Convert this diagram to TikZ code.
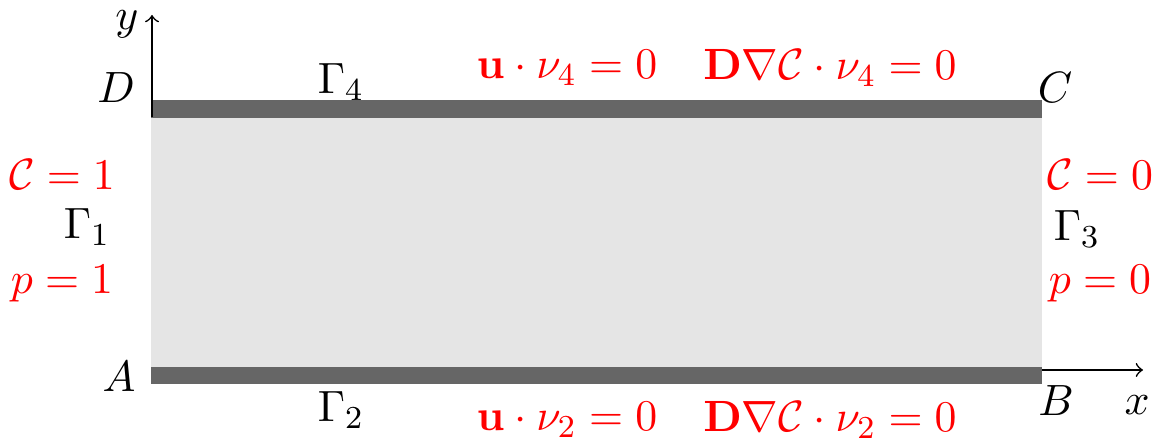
\documentclass[tikz,border=0pt]{standalone}
\usepackage{amsmath}
\begin{document}
\begin{tikzpicture}[x=0.25pt,y=-0.25pt,
  bar/.style={fill=black!60,draw=none},
  lbl/.style={inner sep=0pt,anchor=center,font=\fontsize{11}{13}\selectfont},
  red/.style={lbl,text=red},
  axis/.style={-to,line width=0.4pt}]
\useasboundingbox (0,0) rectangle (1164,447);
% domain
\fill[gray!20] (151,118) rectangle (1042,367);
\draw[bar] (151,100) rectangle (1042,118);
\draw[bar] (151,367) rectangle (1042,384);
% axes
\coordinate (o) at (152,117);
\coordinate (ytip) at (152,15);
\coordinate (xs) at (1042,370);
\coordinate (xtip) at (1143,370);
\draw[axis] (o) -- (ytip);
\draw[axis] (xs) -- (xtip);
% labels
\node[lbl] (ly) at (127,24) {$y$};
\node[lbl] (lx) at (1137,405) {$x$};
\node[lbl] (D) at (116,88) {$D$};
\node[lbl] (C) at (1055,88) {$C$};
\node[lbl] (A) at (119,377) {$A$};
\node[lbl] (B) at (1056,401) {$B$};
\node[lbl] (g4) at (341,82) {$\Gamma_4$};
\node[lbl] (g2) at (341,410) {$\Gamma_2$};
\node[lbl] (g1) at (87,227) {$\Gamma_1$};
\node[lbl] (g3) at (1077,229) {$\Gamma_3$};
\node[red] (u4) at (567,68) {$\mathbf{u}\cdot\nu_4=0$};
\node[red] (d4) at (830,68) {$\mathbf{D}\nabla\mathcal{C}\cdot\nu_4=0$};
\node[red] (u2) at (567,420) {$\mathbf{u}\cdot\nu_2=0$};
\node[red] (d2) at (830,420) {$\mathbf{D}\nabla\mathcal{C}\cdot\nu_2=0$};
\node[red] (c1) at (62,175) {$\mathcal{C}=1$};
\node[red] (p1) at (62,284) {$p=1$};
\node[red] (c0) at (1100,175) {$\mathcal{C}=0$};
\node[red] (p0) at (1100,284) {$p=0$};
\end{tikzpicture}
\end{document}
